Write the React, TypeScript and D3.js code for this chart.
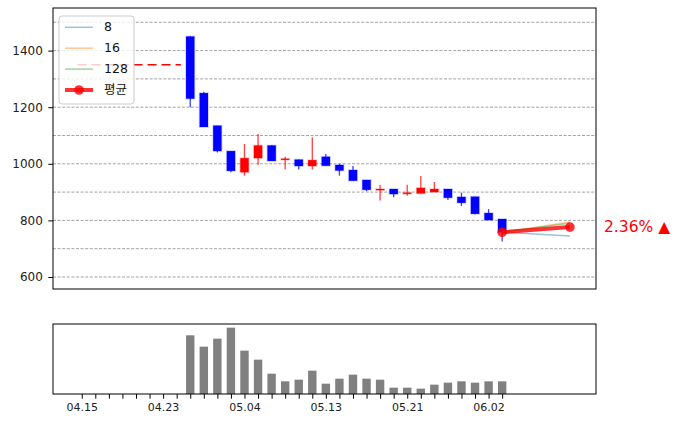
import React, { useRef, useEffect } from "react";
import * as d3 from "d3";

// trading days shown on the volume axis
const dates = [
  "04.15", "04.16", "04.17", "04.20", "04.21", "04.22", "04.23", "04.24",
  "04.27", "04.28", "04.29", "04.30", "05.04", "05.06", "05.07", "05.08",
  "05.11", "05.12", "05.13", "05.14", "05.15", "05.18", "05.19", "05.20",
  "05.21", "05.22", "05.26", "05.27", "05.28", "05.29", "06.02", "06.04",
];

const opens = [
  1350, 1350, 1350, 1350, 1350, 1350, 1350, 1350,
  1450, 1250, 1135, 1045, 970, 1020, 1065, 1015, 1015, 992, 1025, 996,
  978, 943, 908, 911, 895, 895, 900, 911, 883, 884, 826, 805,
];
const highs = [
  1350, 1350, 1350, 1350, 1350, 1350, 1350, 1350,
  1451, 1255, 1135, 1045, 1070, 1105, 1065, 1025, 1015, 1094, 1035, 1000,
  992, 943, 925, 911, 926, 957, 936, 911, 898, 884, 840, 805,
];
const lows = [
  1350, 1350, 1350, 1350, 1350, 1350, 1350, 1350,
  1200, 1130, 1040, 970, 958, 997, 1010, 980, 980, 980, 993, 958,
  940, 903, 870, 882, 887, 895, 900, 872, 851, 822, 801, 725,
];
const closes = [
  1350, 1350, 1350, 1350, 1350, 1350, 1350, 1350,
  1230, 1130, 1045, 975, 1020, 1065, 1010, 1018, 992, 1013, 993, 976,
  940, 908, 911, 893, 898, 915, 911, 880, 862, 823, 801, 758,
];
const volumes = [
  0, 0, 0, 0, 0, 0, 0, 0,
  176, 142, 166, 199, 130, 103, 61, 38, 43, 70, 31, 46,
  58, 46, 43, 19, 19, 16, 28, 34, 38, 34, 38, 38,
];

// forecast lines, 5 days ahead of the last close
const forecastDays = 5;
const forecastNames = ["8", "16", "128"];
const forecastValues = [745, 794, 790];
const forecastColors = ["#1f77b4", "#ff7f0e", "#2ca02c"];
const changeLabel = "2.36% ▲";

const yTicks = [600, 800, 1000, 1200, 1400];
const yGrid = [600, 700, 800, 900, 1000, 1100, 1200, 1300, 1400, 1500];

function StockChart() {
  const svgRef = useRef(null);

  useEffect(() => {
    const font = "DejaVu Sans, 'Noto Sans CJK KR', sans-serif";
    const main = { left: 53, right: 596, top: 8, bottom: 289 };
    const vol = { left: 53, right: 596, top: 324, bottom: 394 };

    const xScale = d3.scaleLinear()
      .domain([-2.12, 37.92])
      .range([main.left, main.right]);

    const yScale = d3.scaleLinear()
      .domain([557.6, 1550.5])
      .range([main.bottom, main.top]);

    const yVol = d3.scaleLinear()
      .domain([0, d3.max(volumes) * 1.055])
      .range([vol.bottom, vol.top]);

    const bw = 8.4;
    const idx = dates.map((d, i) => i);
    const traded = idx.filter(i => volumes[i] > 0);
    const idle = idx.filter(i => volumes[i] === 0);
    const last = traded[traded.length - 1];

    const svg = d3.select(svgRef.current);
    svg.selectAll("*").remove();

    // grid
    svg.append("g")
      .selectAll("line")
      .data(yGrid)
      .join("line")
        .attr("x1", main.left)
        .attr("x2", main.right)
        .attr("y1", d => yScale(d))
        .attr("y2", d => yScale(d))
        .attr("stroke", "#8c8c8c")
        .attr("stroke-width", 0.8)
        .attr("stroke-dasharray", "3,1.6");

    // flat price before trading started
    svg.append("line")
      .attr("x1", xScale(idle[0]) - bw / 2)
      .attr("x2", xScale(idle[idle.length - 1]) + bw / 2)
      .attr("y1", yScale(closes[idle[0]]))
      .attr("y2", yScale(closes[idle[0]]))
      .attr("stroke", "red")
      .attr("stroke-width", 1.5)
      .attr("stroke-dasharray", "9,5");

    const color = i => (closes[i] >= opens[i] ? "#ff0000" : "#0000ff");

    svg.append("g")
      .selectAll("line")
      .data(traded)
      .join("line")
        .attr("x1", i => xScale(i))
        .attr("x2", i => xScale(i))
        .attr("y1", i => yScale(highs[i]))
        .attr("y2", i => yScale(lows[i]))
        .attr("stroke", color)
        .attr("stroke-opacity", 0.75)
        .attr("stroke-width", 1.3);

    svg.append("g")
      .selectAll("rect")
      .data(traded)
      .join("rect")
        .attr("x", i => xScale(i) - bw / 2)
        .attr("y", i => yScale(Math.max(opens[i], closes[i])))
        .attr("width", bw)
        .attr("height", i => Math.max(1.2, Math.abs(yScale(opens[i]) - yScale(closes[i]))))
        .attr("fill", color)
        .attr("stroke", color)
        .attr("stroke-opacity", 0.2)
        .attr("stroke-width", 1.6);

    // forecast lines
    const xEnd = last + forecastDays;
    forecastValues.forEach((v, k) => {
      svg.append("line")
        .attr("x1", xScale(last))
        .attr("y1", yScale(closes[last]))
        .attr("x2", xScale(xEnd))
        .attr("y2", yScale(v))
        .attr("stroke", forecastColors[k])
        .attr("stroke-opacity", 0.45)
        .attr("stroke-width", 1.5);
    });

    const avg = d3.mean(forecastValues);
    const avgPts = [[last, closes[last]], [xEnd, avg]];
    svg.append("path")
      .attr("d", d3.line().x(d => xScale(d[0])).y(d => yScale(d[1]))(avgPts))
      .attr("fill", "none")
      .attr("stroke", "red")
      .attr("stroke-opacity", 0.8)
      .attr("stroke-width", 4);
    svg.append("g")
      .selectAll("circle")
      .data(avgPts)
      .join("circle")
        .attr("cx", d => xScale(d[0]))
        .attr("cy", d => yScale(d[1]))
        .attr("r", 4.8)
        .attr("fill", "red")
        .attr("fill-opacity", 0.8);

    svg.append("text")
      .attr("x", 604)
      .attr("y", yScale(avg))
      .attr("dominant-baseline", "middle")
      .attr("fill", "red")
      .style("font-family", font)
      .style("font-size", "15.5px")
      .text(changeLabel);

    // main frame + y axis
    svg.append("rect")
      .attr("x", main.left)
      .attr("y", main.top)
      .attr("width", main.right - main.left)
      .attr("height", main.bottom - main.top)
      .attr("fill", "none")
      .attr("stroke", "black")
      .attr("stroke-width", 1);

    const yAxis = svg.append("g")
      .attr("transform", `translate(${main.left},0)`)
      .call(d3.axisLeft(yScale)
        .tickValues(yTicks)
        .tickFormat(d3.format("d"))
        .tickSize(4.7)
        .tickPadding(5.5));
    yAxis.select(".domain").remove();
    yAxis.selectAll("text")
      .style("font-family", font)
      .style("font-size", "12px")
      .attr("fill", "#222");

    // legend
    const lg = svg.append("g").attr("transform", "translate(59,16)");
    lg.append("rect")
      .attr("width", 75)
      .attr("height", 88)
      .attr("rx", 3)
      .attr("fill", "white")
      .attr("fill-opacity", 0.8)
      .attr("stroke", "#cccccc");
    const entries = forecastNames.map((n, k) => ({ name: n, color: forecastColors[k], avg: false }))
      .concat([{ name: "평균", color: "red", avg: true }]);
    entries.forEach((e, k) => {
      const y = 11.3 + k * 20.9;
      lg.append("line")
        .attr("x1", 6)
        .attr("x2", 34)
        .attr("y1", y)
        .attr("y2", y)
        .attr("stroke", e.color)
        .attr("stroke-opacity", e.avg ? 0.8 : 0.45)
        .attr("stroke-width", e.avg ? 4 : 1.5);
      if (e.avg) {
        lg.append("circle")
          .attr("cx", 20)
          .attr("cy", y)
          .attr("r", 4.8)
          .attr("fill", "red")
          .attr("fill-opacity", 0.8);
      }
      lg.append("text")
        .attr("x", 45)
        .attr("y", y)
        .attr("dominant-baseline", "middle")
        .style("font-family", font)
        .style("font-size", "12.5px")
        .attr("fill", "#111")
        .text(e.name);
    });

    // volume panel
    svg.append("g")
      .selectAll("rect")
      .data(traded)
      .join("rect")
        .attr("x", i => xScale(i) - bw / 2)
        .attr("y", i => yVol(volumes[i]))
        .attr("width", bw)
        .attr("height", i => yVol(0) - yVol(volumes[i]))
        .attr("fill", "#808080");

    svg.append("rect")
      .attr("x", vol.left)
      .attr("y", vol.top)
      .attr("width", vol.right - vol.left)
      .attr("height", vol.bottom - vol.top)
      .attr("fill", "none")
      .attr("stroke", "black")
      .attr("stroke-width", 1);

    const xAxis = svg.append("g")
      .attr("transform", `translate(0,${vol.bottom})`)
      .call(d3.axisBottom(xScale)
        .tickValues(idx)
        .tickFormat(i => (i % 6 === 0 ? dates[i] : ""))
        .tickSize(4.7)
        .tickPadding(4));
    xAxis.select(".domain").remove();
    xAxis.selectAll("text")
      .style("font-family", font)
      .style("font-size", "11px")
      .attr("fill", "#222");
  }, []);

  return (
    <svg ref={svgRef} width={681} height={428}
      style={{ position: "absolute", left: 0, top: 0, background: "white" }} />
  );
}

export default function App() {
  return <StockChart />;
}
